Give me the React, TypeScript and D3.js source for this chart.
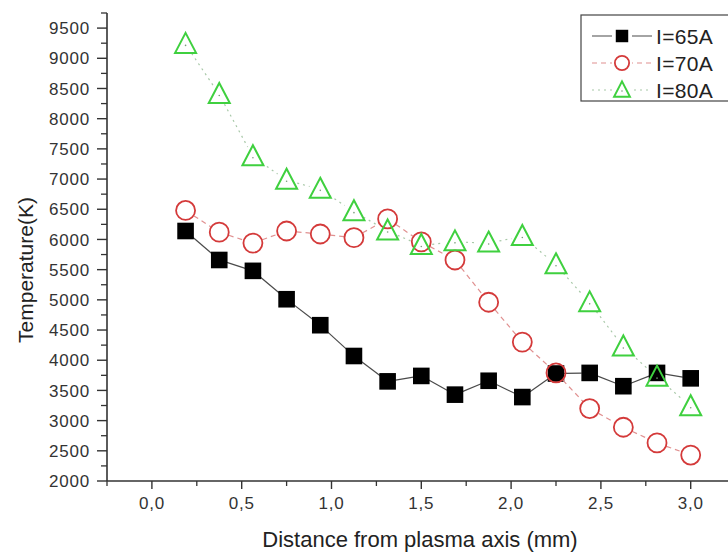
import React from "react";
import * as d3 from "d3";

const distances = [0.1875, 0.375, 0.5625, 0.75, 0.9375, 1.125, 1.3125, 1.5, 1.6875, 1.875, 2.0625, 2.25, 2.4375, 2.625, 2.8125, 3.0];
const temp65 = [6140, 5660, 5480, 5010, 4580, 4070, 3650, 3740, 3430, 3660, 3390, 3780, 3790, 3570, 3790, 3700];
const temp70 = [6480, 6120, 5940, 6140, 6090, 6030, 6340, 5960, 5660, 4960, 4300, 3790, 3200, 2890, 2630, 2430];
const temp80 = [9230, 8400, 7370, 6980, 6830, 6460, 6140, 5900, 5960, 5940, 6050, 5580, 4950, 4220, 3720, 3230];
const seriesNames = ["I=65A", "I=70A", "I=80A"];
const xTickValues = [0, 0.5, 1.0, 1.5, 2.0, 2.5, 3.0];
const yTickValues = [2000, 2500, 3000, 3500, 4000, 4500, 5000, 5500, 6000, 6500, 7000, 7500, 8000, 8500, 9000, 9500];

const W = 728, H = 554;
const left = 107, bottom = 481, top = 13;
const FONT = "'Liberation Sans', Arial, sans-serif";

export default function App() {
  const x = d3.scaleLinear().domain([-0.25, 3.25]).range([left, left + 3.5 * 179.6]);
  const y = d3.scaleLinear().domain([2000, 9750]).range([bottom, top]);
  const fmt = (v: number) => d3.format(".1f")(v).replace(".", ",");

  const xMinor = d3.range(-0.25, 3.26, 0.25).filter(v => Math.abs(v * 2 - Math.round(v * 2)) > 0.01);
  const yMinor = d3.range(2250, 9751, 500);

  const series = [
    { name: seriesNames[0], data: temp65, lineColor: "#4a4a4a", dash: "", gap: 8, marker: "square" },
    { name: seriesNames[1], data: temp70, lineColor: "#e09090", dash: "5,4", gap: 10, marker: "circle" },
    { name: seriesNames[2], data: temp80, lineColor: "#a8c8a8", dash: "2,4", gap: 11, marker: "triangle" },
  ];

  const marker = (type: string, cx: number, cy: number, s: number, key: string) => {
    if (type === "square") {
      return <rect key={key} x={cx - 8.3 * s} y={cy - 8.3 * s} width={16.6 * s} height={16.6 * s} fill="#000" />;
    }
    if (type === "circle") {
      return <circle key={key} cx={cx} cy={cy} r={9.5 * s} fill="none" stroke="#d43a3a" strokeWidth={1.8} />;
    }
    const hw = 10.5 * s, hh = 9.5 * s;
    return (
      <g key={key}>
        <path d={`M${cx},${cy - hh - 2 * s} L${cx + hw},${cy + hh - 2 * s + 1} L${cx - hw},${cy + hh - 2 * s + 1} Z`} fill="none" stroke="#3fd03f" strokeWidth={2} strokeLinejoin="miter" />
        <circle cx={cx} cy={cy + 1} r={0.8} fill="#7a9a7a" />
      </g>
    );
  };

  const segments = (s: typeof series[0]) => {
    const pts = s.data.map((v, i) => [x(distances[i]), y(v)]);
    const out: JSX.Element[] = [];
    for (let i = 0; i < pts.length - 1; i++) {
      const [x1, y1] = pts[i], [x2, y2] = pts[i + 1];
      const len = Math.hypot(x2 - x1, y2 - y1);
      if (len <= 2 * s.gap) continue;
      const ux = (x2 - x1) / len, uy = (y2 - y1) / len;
      out.push(
        <line key={i} x1={x1 + ux * s.gap} y1={y1 + uy * s.gap} x2={x2 - ux * s.gap} y2={y2 - uy * s.gap}
          stroke={s.lineColor} strokeWidth={1.2} strokeDasharray={s.dash || undefined} />
      );
    }
    return out;
  };

  return (
    <svg width={W} height={H} style={{ position: "absolute", left: 0, top: 0, background: "#fff" }} fontFamily={FONT}>
      <rect width={W} height={H} fill="#fff" />
      {/* axes */}
      <line x1={left} y1={top} x2={left} y2={bottom} stroke="#333" strokeWidth={1.6} />
      <line x1={left} y1={bottom} x2={W} y2={bottom} stroke="#333" strokeWidth={1.6} />
      {yTickValues.map(v => (
        <g key={"y" + v}>
          <line x1={left - 10} x2={left} y1={y(v)} y2={y(v)} stroke="#333" strokeWidth={1.4} />
          <text x={left - 17} y={y(v)} dy="0.36em" textAnchor="end" fontSize={17} letterSpacing={0.8} fill="#333">{v}</text>
        </g>
      ))}
      {yMinor.map(v => (
        <line key={"ym" + v} x1={left - 6} x2={left} y1={y(v)} y2={y(v)} stroke="#333" strokeWidth={1.3} />
      ))}
      {xTickValues.map(v => (
        <g key={"x" + v}>
          <line x1={x(v)} x2={x(v)} y1={bottom} y2={bottom + 8} stroke="#333" strokeWidth={1.4} />
          <text x={x(v)} y={bottom + 28} textAnchor="middle" fontSize={17} letterSpacing={0.8} fill="#333">{fmt(v)}</text>
        </g>
      ))}
      {xMinor.map(v => (
        <line key={"xm" + v} x1={x(v)} x2={x(v)} y1={bottom} y2={bottom + 5} stroke="#333" strokeWidth={1.3} />
      ))}
      <text x={420} y={547} textAnchor="middle" fontSize={22} fill="#222">Distance from plasma axis (mm)</text>
      <text transform={`translate(33,${270}) rotate(-90)`} textAnchor="middle" fontSize={21} fill="#222">Temperature(K)</text>

      {/* series */}
      {series.map((s, si) => (
        <g key={"s" + si}>
          {segments(s)}
          {s.data.map((v, i) => marker(s.marker, x(distances[i]), y(v), 1, `m${si}-${i}`))}
        </g>
      ))}

      {/* legend */}
      <rect x={581} y={15} width={160} height={86} fill="#fff" stroke="#444" strokeWidth={1.2} />
      {series.map((s, i) => {
        const ly = 36 + i * 27;
        return (
          <g key={"l" + i}>
            <line x1={592} x2={652} y1={ly} y2={ly} stroke={s.lineColor} strokeWidth={1.2} strokeDasharray={s.dash || undefined} />
            <rect x={612} y={ly - 9} width={20} height={18} fill="#fff" />
            {marker(s.marker, 622, ly, 0.75, "lm" + i)}
            <text x={656} y={ly} dy="0.36em" fontSize={21} letterSpacing={0.3} fill="#222">{s.name}</text>
          </g>
        );
      })}
    </svg>
  );
}
